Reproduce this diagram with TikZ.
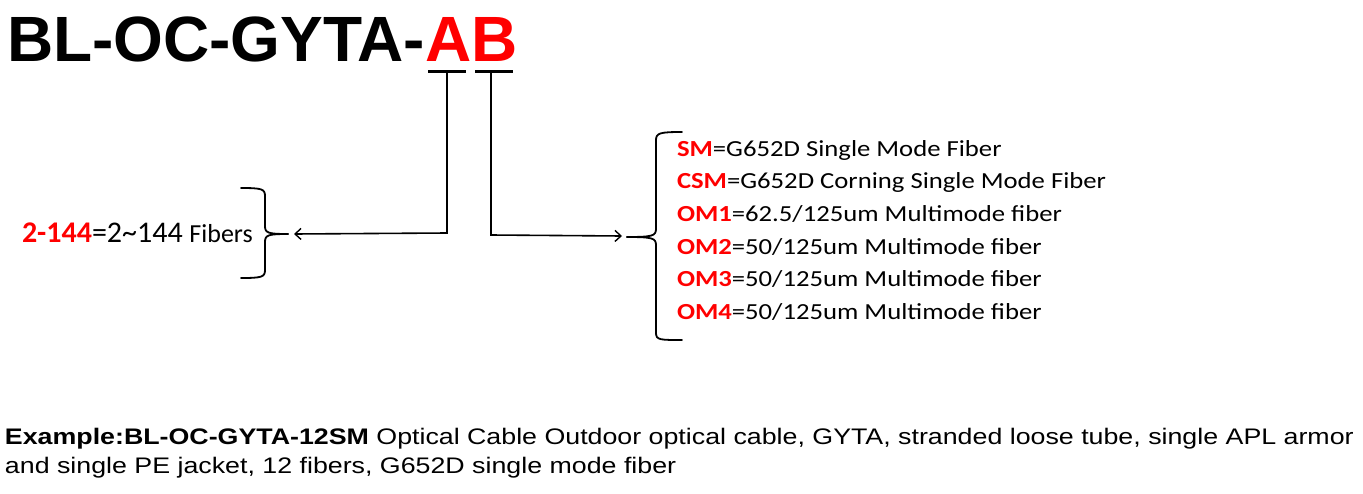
\documentclass[tikz,border=0pt]{standalone}
\usepackage{fontspec}
\usetikzlibrary{arrows.meta}
\newfontfamily\arialf{Liberation Sans}
\newfontfamily\arialwide[FakeStretch=1.19]{Liberation Sans}
\newfontfamily\calibrif{Carlito}
\newfontfamily\calibriwide[FakeStretch=1.16]{Carlito}
\definecolor{codered}{RGB}{255,0,0}
\begin{document}
\begin{tikzpicture}[x=1pt,y=-1pt,
  txt/.style={anchor=base west, inner sep=0, outer sep=0},
  listline/.style={txt, font=\calibriwide\fontsize{23}{26}\selectfont},
  conn/.style={line width=1.6pt, line join=miter},
  arr/.style={conn, -{Straight Barb[length=6pt,width=11pt,line width=1.4pt]}},
  ul/.style={line width=3pt},
  bracestyle/.style={line width=1.8pt, line cap=round}]
\useasboundingbox (0,0) rectangle (1363,493);
% title
\node[txt, font=\arialf\bfseries\fontsize{64}{68}\selectfont] (title) at (7,61) {BL-OC-GYTA-\textcolor{codered}{AB}};
% underlines
\coordinate (ulA1) at (428,71); \coordinate (ulA2) at (466,71);
\coordinate (ulB1) at (475,71); \coordinate (ulB2) at (513,71);
\draw[ul] (ulA1) -- (ulA2);
\draw[ul] (ulB1) -- (ulB2);
\coordinate (A) at (447,71);
\coordinate (B) at (491,71);
% left brace
\coordinate (lbtip) at (288,234);
\draw[bracestyle] (241,188) .. controls (262,188) and (265,189) .. (265,196) -- (265,226) .. controls (265,233) and (268,234) .. (lbtip);
\draw[bracestyle] (lbtip) .. controls (268,234) and (265,235) .. (265,242) -- (265,270) .. controls (265,277) and (262,278) .. (241,278);
% right brace
\coordinate (rbtip) at (627,237);
\draw[bracestyle] (682,132) .. controls (660,132) and (656,133) .. (656,140) -- (656,229) .. controls (656,236) and (652,237) .. (rbtip);
\draw[bracestyle] (rbtip) .. controls (652,237) and (656,238) .. (656,245) -- (656,333) .. controls (656,340) and (660,340) .. (682,340);
% connectors
\coordinate (lbend) at (447,233);
\coordinate (rbend) at (491,235);
\coordinate (larrow) at (294,234);
\coordinate (rarrow) at (622,236);
\draw[arr] (A) -- (lbend) -- (larrow);
\draw[arr] (B) -- (rbend) -- (rarrow);
% left text
\node[txt, font=\calibrif\fontsize{30}{32}\selectfont] (fibers) at (22,242) {\textcolor{codered}{\bfseries 2-144}=2\textasciitilde144 {\fontsize{26}{28}\selectfont Fibers}};
% list
\node[listline] (sm) at (677,156) {\textcolor{codered}{\bfseries SM}=G652D Single Mode Fiber};
\node[listline] (csm) at (677,188.5) {\textcolor{codered}{\bfseries CSM}=G652D Corning Single Mode Fiber};
\node[listline] (om1) at (677,221.5) {\textcolor{codered}{\bfseries OM1}=62.5/125um Multimode fiber};
\node[listline] (om2) at (677,254) {\textcolor{codered}{\bfseries OM2}=50/125um Multimode fiber};
\node[listline] (om3) at (677,286.5) {\textcolor{codered}{\bfseries OM3}=50/125um Multimode fiber};
\node[listline] (om4) at (677,319) {\textcolor{codered}{\bfseries OM4}=50/125um Multimode fiber};
% example (base anchor = last line)
\node[txt, font=\arialwide\fontsize{22.5}{28.5}\selectfont, align=left] (example) at (5,473) {{\bfseries Example:BL-OC-GYTA-12SM} Optical Cable Outdoor optical cable, GYTA, stranded loose tube, single APL armor\\and single PE jacket, 12 fibers, G652D single mode fiber};
\end{tikzpicture}
\end{document}
